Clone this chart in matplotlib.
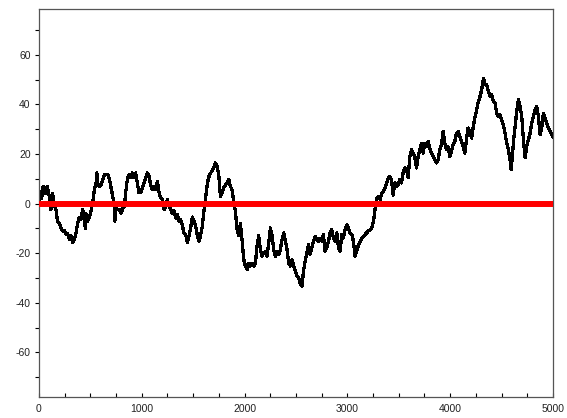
import matplotlib
matplotlib.use("Agg")
import matplotlib.pyplot as plt
from matplotlib.ticker import MultipleLocator

# random walk, (step, value) pairs
steps = [0, 10, 25, 40, 50, 65, 80, 100, 115, 133, 150, 165, 180, 197, 214, 230, 250, 265, 279, 295,
         311, 327, 343, 360, 376, 392, 408, 425, 441, 450, 457, 474, 490, 506, 522, 538, 555, 563, 571, 587,
         603, 620, 636, 652, 668, 685, 701, 717, 733, 738, 750, 766, 782, 798, 814, 831, 843, 859, 876, 892,
         908, 924, 940, 957, 973, 989, 1005, 1022, 1038, 1054, 1070, 1086, 1103, 1119, 1135, 1151, 1168, 1184, 1200, 1216,
         1233, 1249, 1265, 1281, 1297, 1314, 1330, 1346, 1362, 1379, 1395, 1411, 1427, 1443, 1460, 1476, 1492, 1508, 1525, 1541,
         1557, 1573, 1589, 1606, 1622, 1638, 1654, 1671, 1700, 1716, 1732, 1748, 1765, 1781, 1797, 1813, 1829, 1846, 1862, 1878,
         1894, 1910, 1927, 1943, 1959, 1975, 1992, 2008, 2024, 2040, 2056, 2073, 2089, 2105, 2121, 2137, 2154, 2170, 2186, 2202,
         2219, 2235, 2251, 2267, 2283, 2300, 2316, 2332, 2348, 2364, 2381, 2397, 2413, 2429, 2445, 2462, 2478, 2494, 2510, 2526,
         2543, 2559, 2572, 2589, 2605, 2621, 2637, 2654, 2670, 2686, 2702, 2718, 2735, 2751, 2767, 2783, 2799, 2816, 2832, 2848,
         2864, 2880, 2897, 2913, 2929, 2945, 2961, 2978, 2994, 3010, 3026, 3043, 3059, 3075, 3091, 3108, 3124, 3140, 3156, 3172,
         3189, 3205, 3221, 3237, 3254, 3270, 3286, 3302, 3318, 3335, 3351, 3367, 3383, 3399, 3413, 3429, 3445, 3461, 3477, 3494,
         3510, 3526, 3542, 3558, 3575, 3591, 3607, 3623, 3640, 3656, 3672, 3688, 3704, 3721, 3737, 3753, 3769, 3785, 3802, 3818,
         3834, 3850, 3866, 3883, 3899, 3915, 3931, 3947, 3964, 3980, 3996, 4012, 4028, 4045, 4061, 4077, 4093, 4109, 4126, 4142,
         4158, 4174, 4193, 4209, 4225, 4242, 4258, 4274, 4290, 4306, 4323, 4339, 4355, 4371, 4387, 4404, 4420, 4436, 4452, 4469,
         4485, 4501, 4517, 4533, 4550, 4566, 4582, 4592, 4605, 4614, 4631, 4647, 4663, 4679, 4696, 4712, 4728, 4744, 4760, 4777,
         4793, 4809, 4825, 4842, 4858, 4874, 4890, 4906, 4923, 4939, 4955, 4971, 4987, 5000]
walk = [0, 5, 2, 7, 6.4, 4, 7, 3, -2.4, 4, -1, -2.4, -7, -8, -9.8, -11, -11, -12.5, -12, -14.5,
        -13, -15.7, -14.5, -11.8, -8, -5.5, -6.5, -2.4, -6, -10, -4, -7, -5.4, -3, 0.2, 5.6, 8.3, 12.4, 8.3, 7,
        7.5, 9.8, 11.8, 11.8, 11.8, 9.8, 6.4, 3, -1, -7, -2, -2.4, -2.4, -4, -2, -1, 4.4, 9.7, 11.8, 10.5,
        12.4, 10.5, 12.4, 8.3, 4.4, 4.4, 6.4, 8.3, 10.5, 12.4, 11, 7.5, 5.6, 7, 5.6, 9, 4.4, 2.4, 1.8, -2.4,
        -1, 1.8, -1, -2.4, -4, -3, -5.8, -4.4, -7, -6.5, -9, -11.8, -12.5, -15.7, -13, -9.4, -5.4, -7, -9.4, -13,
        -15.2, -12.5, -9, -2.4, 3, 8.3, 11, 12.4, 14.4, 16.4, 15, 11.8, 3, 4.4, 6.4, 7.5, 8.3, 9.7, 7, 5.6,
        1, -3, -10.5, -13, -8, -14.5, -22.6, -25.2, -26.6, -24, -25.2, -24, -25.2, -24, -17.2, -13, -18.5, -21.2, -19.9, -19.2,
        -21.2, -15.7, -9.8, -13, -18.5, -21.2, -19.2, -20.5, -18.5, -14.5, -11.8, -15.2, -18.5, -24, -25.2, -22.6, -25.2, -27.3, -29.3, -30,
        -32.6, -33.3, -27.3, -23.2, -19.9, -16.5, -20.5, -17.8, -15.2, -13.2, -14.5, -15.2, -13.9, -15.2, -12.5, -19.2, -17.8, -15.2, -11.8, -10.5,
        -13.9, -15.2, -11.8, -17.8, -19.2, -12.5, -13.9, -10.5, -8.5, -9.8, -11.8, -12.5, -15.2, -21.2, -19.2, -16.5, -15.2, -13.9, -13.2, -12.5,
        -11.8, -11, -10.5, -9.8, -7.1, -1.8, 2.3, 3, 1.6, 4.4, 5, 6.4, 8.3, 10.4, 11, 9.7, 3.4, 8.3, 7, 7.5,
        9.7, 8.3, 12.4, 14.4, 13.7, 10.4, 19, 21.7, 20.4, 18.5, 14.4, 19, 21.7, 24.4, 20.4, 24.4, 23, 25.1, 22.4, 20.4,
        19, 17.7, 16.4, 17.7, 21.7, 23.7, 29.1, 24.4, 21.7, 23, 19, 21, 23.7, 25.1, 28.4, 29.1, 27.1, 25.1, 23, 20.4,
        25.7, 30.5, 28.4, 26.4, 31.1, 35.2, 37.9, 41.2, 43.2, 45.9, 50.6, 48, 48, 45.3, 43.2, 43.9, 41.2, 40.6, 36.5, 35.2,
        35.8, 33.8, 31.8, 28.4, 24.4, 21.7, 17.7, 13.7, 19, 24.4, 31.1, 37.2, 41.9, 39.2, 35.2, 25.7, 18.5, 23, 25.7, 28.4,
        32.5, 35.2, 37.9, 39.2, 35.2, 27.8, 30.5, 36.5, 34.5, 32.5, 30.5, 29.1, 27.8, 27]
zero_x = [0, 5000]
zero_y = [0, 0]

fig = plt.figure(figsize=(5.67, 4.18), dpi=100)
ax = fig.add_axes([39 / 567, 21 / 418, 514 / 567, 388 / 418])

ax.plot(steps, walk, color="black", linewidth=1.6, antialiased=False, zorder=2)
ax.plot(zero_x, zero_y, color="#ff0000", linewidth=4.3, solid_capstyle="butt", zorder=3)

ax.set_xlim(0, 5000)
ax.set_ylim(-78, 78.5)
ax.xaxis.set_major_locator(MultipleLocator(1000))
ax.xaxis.set_minor_locator(MultipleLocator(250))
ax.yaxis.set_major_locator(MultipleLocator(20))
ax.yaxis.set_minor_locator(MultipleLocator(10))

ax.tick_params(axis="x", which="both", direction="in", length=3, width=0.8, labelsize=7.5, pad=5)
ax.tick_params(axis="y", which="both", direction="out", length=3, width=0.8, labelsize=7.5, pad=3)
for lbl in ax.get_xticklabels() + ax.get_yticklabels():
    lbl.set_family("Liberation Sans")
    lbl.set_color("#222222")
ax.yaxis.set_major_formatter(matplotlib.ticker.FuncFormatter(lambda v, p: "%d" % v))

for s in ax.spines.values():
    s.set_color("#555555")
    s.set_linewidth(0.9)

fig.savefig("out.png", dpi=100)
